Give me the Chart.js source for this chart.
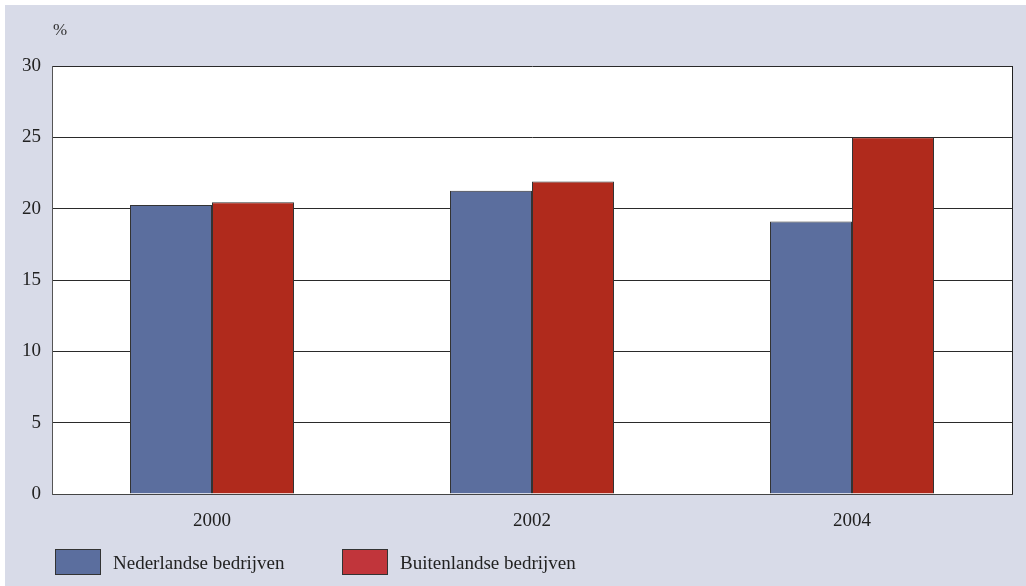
<!DOCTYPE html>
<html>
<head>
<meta charset="utf-8">
<script src="https://cdn.jsdelivr.net/npm/chart.js@4.4.1/dist/chart.umd.min.js"></script>
<style>
  body { margin: 0; background: #fff; }
  #panel { position: absolute; left: 5px; top: 5px; width: 1021px; height: 581px; background: #D8DBE8; }
</style>
</head>
<body>
<div id="panel"><canvas id="chart" width="1021" height="581"></canvas></div>
<script>
// data
const years = ['2000', '2002', '2004'];
const seriesNames = ['Nederlandse bedrijven', 'Buitenlandse bedrijven'];
const nederlands = [20.25, 21.25, 19.1];
const buitenlands = [20.45, 21.9, 25.0];
const yMax = 30;
const yStep = 5;

const FONT = '"Liberation Serif", "DejaVu Serif", serif';
const legendColors = ['#5B6E9E', '#C1353B'];

// white plot area, frame, "%" unit label and legend
const framePlugin = {
  id: 'frame',
  beforeDraw(chart) {
    const a = chart.chartArea, c = chart.ctx;
    c.save();
    c.fillStyle = '#fff';
    c.fillRect(a.left, a.top, a.right - a.left, a.bottom - a.top);
    c.restore();
  },
  afterDraw(chart) {
    const a = chart.chartArea, c = chart.ctx;
    c.save();
    c.strokeStyle = '#222';
    c.lineWidth = 1;
    c.beginPath();
    c.moveTo(a.right + 0.5, a.top);
    c.lineTo(a.right + 0.5, a.bottom);
    c.stroke();

    c.fillStyle = '#333';
    c.font = '17px ' + FONT;
    c.textBaseline = 'middle';
    c.fillText('%', a.left + 1, a.top - 35);

    // legend
    const xs = [a.left + 3, a.left + 290];
    const y = a.bottom + 55;
    c.font = '19px ' + FONT;
    chart.data.datasets.forEach((ds, i) => {
      c.fillStyle = legendColors[i];
      c.fillRect(xs[i], y, 46, 26);
      c.strokeStyle = '#333';
      c.strokeRect(xs[i] + 0.5, y + 0.5, 45, 25);
      c.fillStyle = '#222';
      c.textBaseline = 'middle';
      c.fillText(ds.label, xs[i] + 58, y + 15);
    });
    c.restore();
  }
};

new Chart(document.getElementById('chart'), {
  type: 'bar',
  data: {
    labels: years,
    datasets: [{
      label: seriesNames[0],
      data: nederlands,
      backgroundColor: '#5B6E9E',
      borderColor: '#333',
      borderWidth: 1
    }, {
      label: seriesNames[1],
      data: buitenlands,
      backgroundColor: '#B02A1C',
      borderColor: '#333',
      borderWidth: 1
    }]
  },
  options: {
    responsive: false,
    animation: false,
    layout: { padding: { left: 0, right: 14, top: 61, bottom: 0 } },
    plugins: {
      legend: { display: false },
      tooltip: { enabled: false }
    },
    datasets: {
      bar: { categoryPercentage: 0.5125, barPercentage: 1 }
    },
    scales: {
      x: {
        grid: { display: false },
        border: { display: true, color: '#444', width: 1 },
        ticks: { color: '#222', font: { family: FONT, size: 19 }, padding: 8 },
        afterFit(s) { s.height = 92; }
      },
      y: {
        min: 0,
        max: yMax,
        grid: { color: '#2a2a2a', lineWidth: 1, drawTicks: false },
        border: { display: true, color: '#555', width: 1 },
        ticks: { stepSize: yStep, color: '#222', font: { family: FONT, size: 19 }, padding: 11 },
        afterFit(s) { s.width = 47; }
      }
    }
  },
  plugins: [framePlugin]
});
</script>
</body>
</html>
